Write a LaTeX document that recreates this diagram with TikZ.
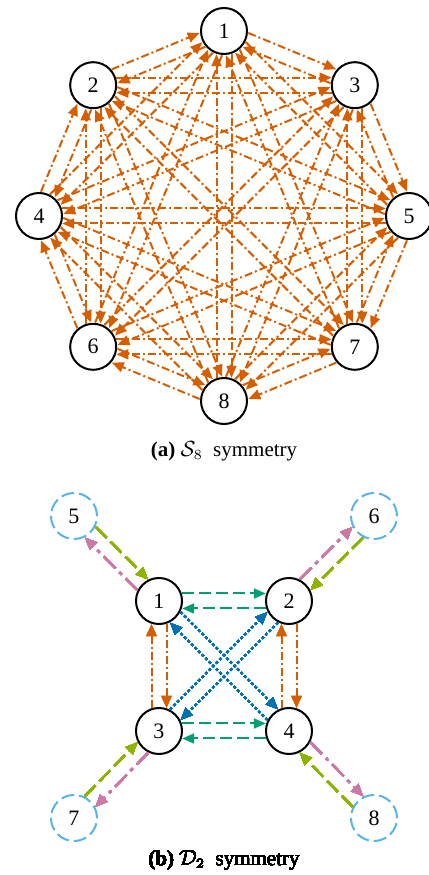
\documentclass[tikz,border=0pt]{standalone}
\usepackage{fontspec}
\setmainfont{Liberation Serif}
\usepackage{tikz}
\usetikzlibrary{arrows.meta,calc,positioning}

\definecolor{vermillion}{RGB}{213,94,0}
\definecolor{bluishgreen}{RGB}{0,158,115}
\definecolor{oceanblue}{RGB}{0,114,178}
\definecolor{mauve}{RGB}{204,121,167}
\definecolor{skyblue}{RGB}{86,180,233}
\definecolor{limegreen}{RGB}{140,180,0}

% one of the two parallel arrows between a pair of nodes (kept on its left)
\newcommand{\pairarrow}[3]{%
  \draw[#1] ($(#2)!3.75pt!90:(#3)$) -- ($(#3)!3.75pt!-90:(#2)$);}

\begin{document}
\begin{tikzpicture}[x=0.5pt, y=0.5pt]
\tikzstyle{vertex} = [circle, draw, line width=1pt, minimum size=23pt,
  inner sep=0pt, font=\fontsize{11}{13}\selectfont]
\tikzstyle{ghost} = [vertex, draw=skyblue, dash pattern=on 6.5pt off 2.5pt]
\tikzstyle{link} = [line width=1pt, shorten <=11.6pt, shorten >=11.6pt,
  -{Triangle[length=6pt,width=5pt]}]
\tikzstyle{perm} = [link, vermillion, dash pattern=on 4pt off 1.5pt on 1pt off 1.5pt]
\tikzstyle{swap} = [link, bluishgreen, dash pattern=on 6pt off 2.5pt]
\tikzstyle{cross} = [link, oceanblue, dash pattern=on 1.2pt off 1.3pt]
\tikzstyle{inward} = [link, limegreen, dash pattern=on 7.5pt off 3pt]
\tikzstyle{outward} = [link, mauve, dash pattern=on 8pt off 3pt on 1.5pt off 3pt]
\tikzstyle{caption} = [font=\fontsize{10.5}{12}\selectfont]

\useasboundingbox (0,0) rectangle (429,875);

% (a) complete graph on eight nodes
\coordinate (topc) at (224,659);
\foreach \n/\a in {1/90,2/135,3/45,4/180,5/0,6/225,7/-45,8/270}
  \node[vertex] (s\n) at ($(topc)+(\a:185)$) {\n};
\foreach \i in {1,...,8}
  \foreach \j in {1,...,8} {
    \ifnum\i=\j\else \pairarrow{perm}{s\i}{s\j}\fi
  };
\node[caption] (capa) at (224,424) {\textbf{(a)} $\mathcal{S}_8$\enspace symmetry};

% (b) square of four nodes with their mirror images
\node[vertex] (d1) at (159,274) {1};
\node[vertex] (d2) at (289,274) {2};
\node[vertex] (d3) at (159,144) {3};
\node[vertex] (d4) at (289,144) {4};
\node[ghost] (d5) at (74,359) {5};
\node[ghost] (d6) at (374,359) {6};
\node[ghost] (d7) at (74,57) {7};
\node[ghost] (d8) at (374,57) {8};

\foreach \a/\b in {1/2,2/1,3/4,4/3} \pairarrow{swap}{d\a}{d\b}
\foreach \a/\b in {1/3,3/1,2/4,4/2} \pairarrow{perm}{d\a}{d\b}
\foreach \a/\b in {1/4,4/1,2/3,3/2} \pairarrow{cross}{d\a}{d\b}
\foreach \a/\b in {5/1,6/2,7/3,8/4} {
  \pairarrow{inward}{d\a}{d\b}
  \pairarrow{outward}{d\b}{d\a}
}
\node[caption] (capb) at (224,15) {\textbf{(b)} $\mathcal{D}_2$\enspace symmetry};
\end{tikzpicture}
\end{document}
